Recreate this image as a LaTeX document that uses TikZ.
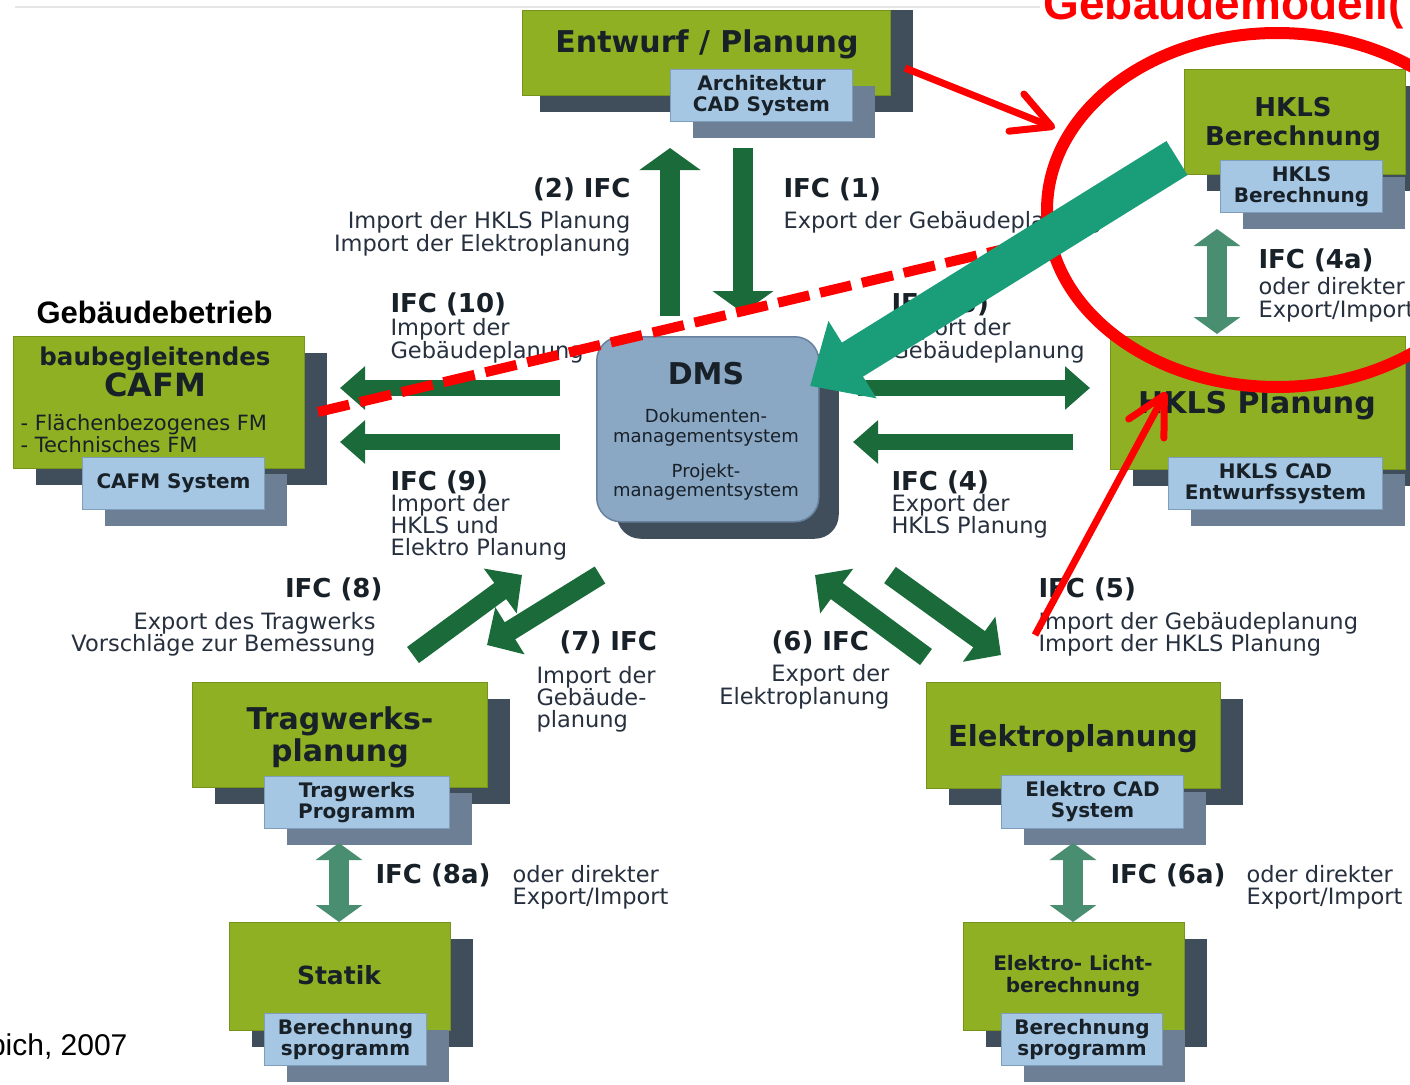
\documentclass[tikz,border=0pt]{standalone}
\usepackage{fontspec}
\setmainfont{DejaVu Sans}
\newfontfamily\arial{Liberation Sans}
\usetikzlibrary{arrows.meta,shadows}
\definecolor{gruen}{RGB}{143,176,34}
\definecolor{gruenrand}{RGB}{118,148,28}
\definecolor{schiefer}{RGB}{64,77,90}
\definecolor{hellblau}{RGB}{166,199,227}
\definecolor{blaurand}{RGB}{128,158,186}
\definecolor{blauschatten}{RGB}{108,127,149}
\definecolor{dmsblau}{RGB}{138,167,196}
\definecolor{dmsrand}{RGB}{104,130,158}
\definecolor{pfeilgruen}{RGB}{26,106,58}
\definecolor{tuerkis}{RGB}{74,142,113}
\definecolor{signalgruen}{RGB}{26,158,122}
\definecolor{textfarbe}{RGB}{24,32,40}
\definecolor{labelfarbe}{RGB}{38,48,62}

\begin{document}
\begin{tikzpicture}[x=1pt,y=-1pt,
	modul/.style={fill=gruen, draw=gruenrand, line width=1pt, inner sep=0pt, anchor=north west,
		drop shadow={shadow xshift=22pt, shadow yshift=-16pt, fill=schiefer, opacity=1}},
	programm/.style={fill=hellblau, draw=blaurand, line width=1pt, inner sep=0pt, anchor=north west,
		align=center, text=textfarbe, font=\bfseries\schrift{20}{21},
		drop shadow={shadow xshift=22pt, shadow yshift=-16pt, fill=blauschatten, opacity=1}},
	titel/.style={anchor=base, align=center, text=textfarbe, font=\bfseries\schrift{30}{32}},
	ifc/.style={anchor=base west, text=textfarbe, font=\bfseries\schrift{26}{28}},
	info/.style={anchor=base west, align=left, text=labelfarbe, font=\schrift{22.5}{22}},
	pfeilv/.style={draw=pfeilgruen, line width=20pt, -{Triangle[width=60pt,length=22pt]}},
	pfeilh/.style={draw=pfeilgruen, line width=16pt, -{Triangle[width=42pt,length=25pt]}},
	pfeild/.style={draw=pfeilgruen, line width=20pt, -{Triangle[width=54pt,length=27pt]}},
	doppel/.style={draw=tuerkis, line width=20pt, {Triangle[width=46pt,length=17pt]}-{Triangle[width=46pt,length=17pt]}},
	rot/.style={draw=red, line width=7pt}]
	\def\schrift#1#2{\fontsize{#1}{#2}\selectfont}
	
	\fill[white] (0,0) rectangle (1410,1084);
	\useasboundingbox (0,0) rectangle (1410,1084);
	\draw[gray!20, line width=1.5pt] (15,7) -- (1040,7);
	
	\fill[schiefer] (540,10) rectangle (913,112);
	\node[modul, minimum width=368pt, minimum height=85pt] (entwurf) at (522,10) {};
	\node[programm, minimum width=182pt, minimum height=52pt] (arch) at (670,69) {Architektur\\CAD System};
	\node[titel] (entwurft) at (707,52) {Entwurf / Planung};
	
	\node[modul, minimum width=221pt, minimum height=105pt] (hklsber) at (1184,69) {};
	\node[programm, minimum width=162pt, minimum height=52pt] (hklsberp) at (1220,160) {HKLS\\Berechnung};
	\node[titel, font=\bfseries\schrift{26}{29}] (hklsbert) at (1293,145) {HKLS\\Berechnung};
	
	\node[modul, minimum width=295pt, minimum height=133pt] (hklspl) at (1110,336) {};
	\node[programm, minimum width=214pt, minimum height=52pt] (hklscad) at (1168,457) {HKLS CAD\\Entwurfssystem};
	\node[titel] (hklsplt) at (1257,413) {HKLS Planung};
	
	\node[anchor=base west, font=\arial\bfseries\schrift{31}{31}] (betrieb) at (33,323) {Gebäudebetrieb};
	\node[modul, minimum width=291pt, minimum height=132pt] (cafm) at (13,336) {};
	\node[programm, minimum width=182pt, minimum height=52pt] (cafmsys) at (82,457) {CAFM System};
	\node[titel, font=\bfseries\schrift{24.5}{26}] (cafmt) at (155,365) {baubegleitendes};
	\node[titel, font=\bfseries\schrift{32}{34}] (cafmk) at (155,396) {CAFM};
	\node[info, text=textfarbe, font=\schrift{21}{20}] (cafml) at (17,452) {- Flächenbezogenes FM\\- Technisches FM};
	
	\node[fill=dmsblau, draw=dmsrand, line width=1.5pt, rounded corners=24pt, inner sep=0pt, anchor=north west,
		minimum width=222pt, minimum height=185pt,
		drop shadow={shadow xshift=20pt, shadow yshift=-17pt, fill=schiefer, opacity=1}] (dms) at (596,336) {};
	\node[titel] (dmst) at (706,384) {DMS};
	\node[titel, font=\schrift{18}{20}] (dmsa) at (706,442) {Dokumenten-\\managementsystem};
	\node[titel, font=\schrift{18}{19}] (dmsb) at (706,496) {Projekt-\\managementsystem};
	
	\node[modul, minimum width=295pt, minimum height=105pt] (trag) at (192,682) {};
	\node[programm, minimum width=185pt, minimum height=52pt] (tragp) at (264,776) {Tragwerks\\Programm};
	\node[titel] (tragt) at (340,761) {Tragwerks-\\planung};
	
	\node[modul, minimum width=221pt, minimum height=108pt] (statik) at (229,922) {};
	\node[programm, minimum width=162pt, minimum height=52pt] (statikp) at (264,1013) {Berechnung\\sprogramm};
	\node[titel, font=\bfseries\schrift{25}{27}] (statikt) at (339,984) {Statik};
	
	\node[modul, minimum width=294pt, minimum height=106pt] (elektro) at (926,682) {};
	\node[programm, minimum width=182pt, minimum height=53pt] (elektrop) at (1001,775) {Elektro CAD\\System};
	\node[titel, font=\bfseries\schrift{29}{31}] (elektrot) at (1073,746) {Elektroplanung};
	
	\node[modul, minimum width=221pt, minimum height=108pt] (licht) at (963,922) {};
	\node[programm, minimum width=161pt, minimum height=52pt] (lichtp) at (1001,1013) {Berechnung\\sprogramm};
	\node[titel, font=\bfseries\schrift{20}{22}] (lichtt) at (1073,992) {Elektro- Licht-\\berechnung};
	
	\node[ifc, anchor=base east] (l2) at (634,197) {(2) IFC};
	\node[info, anchor=base east, align=right, font=\schrift{22.5}{23}] (l2t) at (634,251) {Import der HKLS Planung\\Import der Elektroplanung};
	\node[ifc] (l1) at (780,197) {IFC (1)};
	\node[info] (l1t) at (780,228) {Export der Gebäudeplanung};
	\node[ifc] (l10) at (387,312) {IFC (10)};
	\node[info, font=\schrift{22.5}{21}] (l10t) at (387,358) {Import der\\Gebäudeplanung};
	\node[ifc] (l3) at (888,312) {IFC (3)};
	\node[info, font=\schrift{22.5}{21}] (l3t) at (888,358) {Import der\\Gebäudeplanung};
	\node[ifc] (l9) at (387,490) {IFC (9)};
	\node[info] (l9t) at (387,555) {Import der\\HKLS und\\Elektro Planung};
	\node[ifc] (l4) at (888,490) {IFC (4)};
	\node[info] (l4t) at (888,533) {Export der\\HKLS Planung};
	\node[ifc, anchor=base east] (l8) at (386,597) {IFC (8)};
	\node[info, anchor=base east, align=right] (l8t) at (379,651) {Export des Tragwerks\\Vorschläge zur Bemessung};
	\node[ifc] (l7) at (556,650) {(7) IFC};
	\node[info] (l7t) at (533,727) {Import der\\Gebäude-\\planung};
	\node[ifc] (l6) at (768,650) {(6) IFC};
	\node[info, anchor=base east, align=right, font=\schrift{22.5}{23}] (l6t) at (893,704) {Export der\\Elektroplanung};
	\node[ifc] (l5) at (1035,597) {IFC (5)};
	\node[info] (l5t) at (1035,651) {Import der Gebäudeplanung\\Import der HKLS Planung};
	\node[ifc] (l8a) at (372,883) {IFC (8a)};
	\node[info] (l8at) at (509,904) {oder direkter\\Export/Import};
	\node[ifc] (l6a) at (1107,883) {IFC (6a)};
	\node[info] (l6at) at (1243,904) {oder direkter\\Export/Import};
	\node[ifc] (l4a) at (1255,268) {IFC (4a)};
	\node[info, font=\schrift{22.5}{23}] (l4at) at (1255,317) {oder direkter\\Export/Import};
	
	\coordinate (a1s) at (743,148); \coordinate (a1e) at (743,313);
	\coordinate (a2s) at (670,316); \coordinate (a2e) at (670,148);
	\coordinate (a3s) at (858,388); \coordinate (a3e) at (1090,388);
	\coordinate (a4s) at (1073,442); \coordinate (a4e) at (853,442);
	\coordinate (a5s) at (890,575); \coordinate (a5e) at (1001,655);
	\coordinate (a6s) at (926,657); \coordinate (a6e) at (815,575);
	\coordinate (a7s) at (600,575); \coordinate (a7e) at (487,645);
	\coordinate (a8s) at (413,655); \coordinate (a8e) at (522,575);
	\coordinate (a9s) at (560,442); \coordinate (a9e) at (340,442);
	\coordinate (a10s) at (560,388); \coordinate (a10e) at (340,388);
	\coordinate (b4s) at (1217,229); \coordinate (b4e) at (1217,334);
	\coordinate (b8s) at (339,843); \coordinate (b8e) at (339,922);
	\coordinate (b6s) at (1073,843); \coordinate (b6e) at (1073,922);
	
	\draw[pfeilv] (a1s) -- (a1e);
	\draw[pfeilv] (a2s) -- (a2e);
	\draw[pfeilh] (a3s) -- (a3e);
	\draw[pfeilh] (a4s) -- (a4e);
	\draw[pfeild] (a5s) -- (a5e);
	\draw[pfeild] (a6s) -- (a6e);
	\draw[pfeild] (a7s) -- (a7e);
	\draw[pfeild] (a8s) -- (a8e);
	\draw[pfeilh] (a9s) -- (a9e);
	\draw[pfeilh] (a10s) -- (a10e);
	\draw[doppel] (b4s) -- (b4e);
	\draw[doppel] (b8s) -- (b8e);
	\draw[doppel] (b6s) -- (b6e);
	
	\node[anchor=base west, text=red, font=\arial\bfseries\schrift{46}{46}] (modell) at (1040,19) {Gebäudemodell(};
	\node[anchor=base east, font=\arial\schrift{30}{30}] (quelle) at (131,1055) {bich, 2007};
	
	\draw[rot, line width=12pt] (1277,210) ellipse [x radius=230pt, y radius=177pt];
	\coordinate (r1s) at (905,68); \coordinate (r1e) at (1055,128);
	\coordinate (r2s) at (1035,635); \coordinate (r2e) at (1166,392);
	\draw[rot, -{Straight Barb[round,length=38pt,width=40pt]}] (r1s) -- (r1e);
	\draw[rot, -{Straight Barb[round,length=38pt,width=40pt]}] (r2s) -- (r2e);
	\coordinate (d1) at (318,412); \coordinate (d2) at (1000,250);
	\draw[rot, line width=10pt, dash pattern=on 32pt off 11pt] (d1) -- (d2);
	
	\coordinate (t1) at (1177,158); \coordinate (t2) at (810,386);
	\draw[draw=signalgruen, line width=40pt, -{Triangle[width=88pt,length=50pt]}] (t1) -- (t2);
\end{tikzpicture}
\end{document}
